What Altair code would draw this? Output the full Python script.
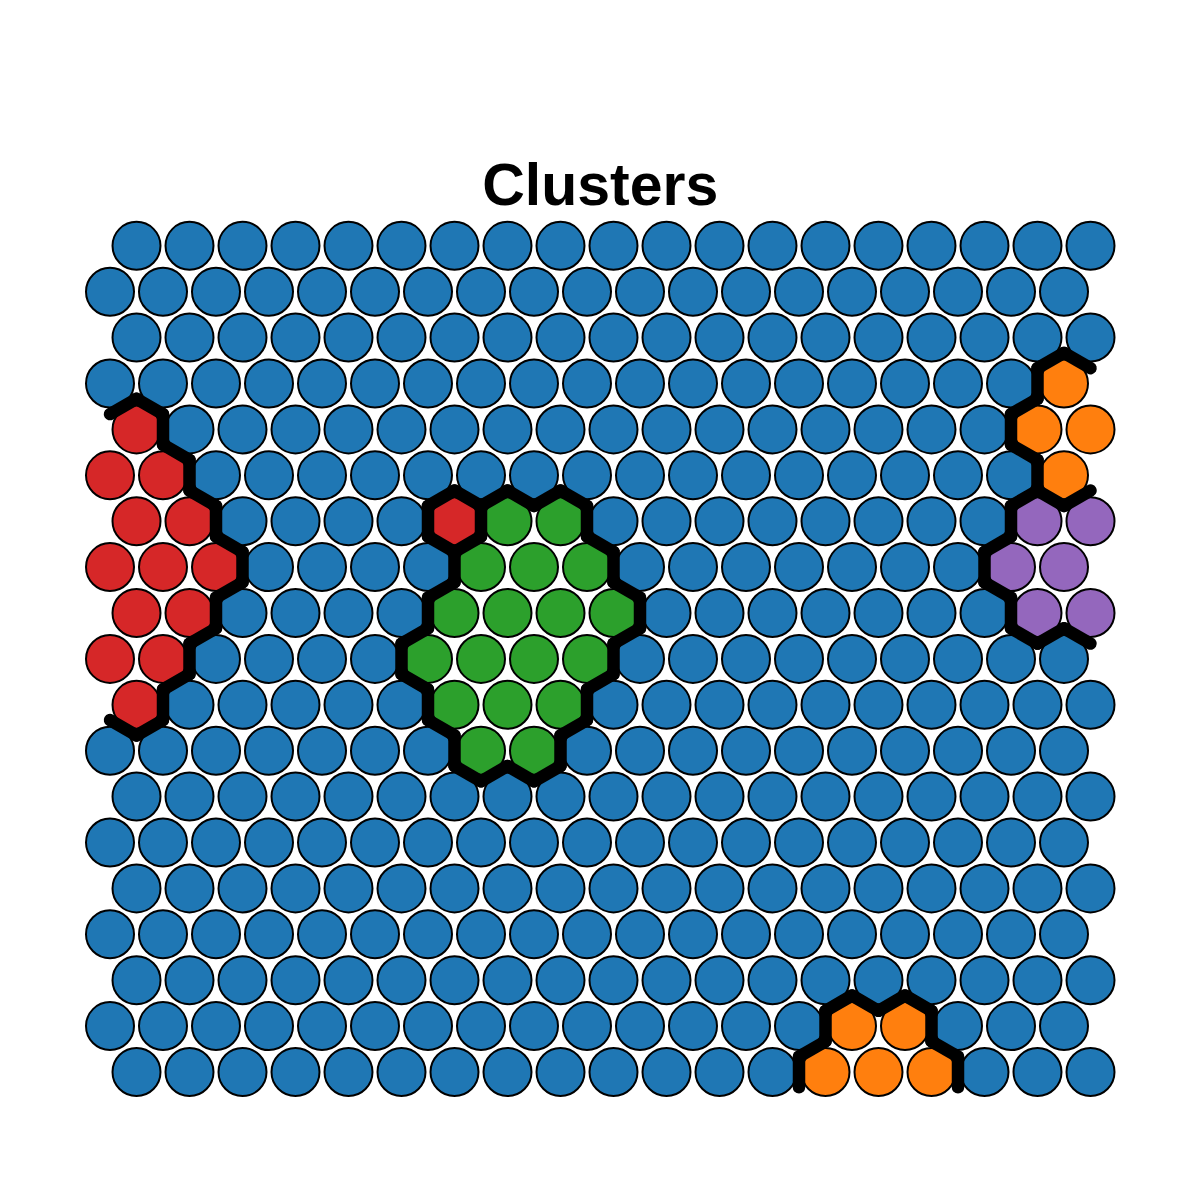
import altair as alt
import pandas as pd
import numpy as np

# ---------------------------------------------------------
# DATA: cluster of each SOM node, top row first (19 x 19 hex grid)
# B = blue, R = red, G = green, O = orange, P = purple
# ---------------------------------------------------------
cluster_rows = [
    "BBBBBBBBBBBBBBBBBBB",
    "BBBBBBBBBBBBBBBBBBB",
    "BBBBBBBBBBBBBBBBBBB",
    "BBBBBBBBBBBBBBBBBBO",
    "RBBBBBBBBBBBBBBBBOO",
    "RRBBBBBBBBBBBBBBBBO",
    "RRBBBBRGGBBBBBBBBPP",
    "RRRBBBBGGGBBBBBBBPP",
    "RRBBBBGGGGBBBBBBBPP",
    "RRBBBBGGGGBBBBBBBBB",
    "RBBBBBGGGBBBBBBBBBB",
    "BBBBBBBGGBBBBBBBBBB",
    "BBBBBBBBBBBBBBBBBBB",
    "BBBBBBBBBBBBBBBBBBB",
    "BBBBBBBBBBBBBBBBBBB",
    "BBBBBBBBBBBBBBBBBBB",
    "BBBBBBBBBBBBBBBBBBB",
    "BBBBBBBBBBBBBBOOBBB",
    "BBBBBBBBBBBBBOOOBBB",
]
cluster_codes = ["B", "R", "G", "O", "P"]
cluster_colors = ["#1f77b4", "#d62728", "#2ca02c", "#ff7f0e", "#9467bd"]

# ---------------------------------------------------------
# NODE POSITIONS (hex grid: every other row shifted by half a node)
# ---------------------------------------------------------
n_rows = len(cluster_rows)
H = np.sqrt(3) / 2
nodes = []
for r, row in enumerate(cluster_rows):
    for c, code in enumerate(row):
        nodes.append({
            "x": c + (0.5 if r % 2 == 0 else 0.0),
            "y": (n_rows - 1 - r) * H,
            "cluster": code,
        })
nodes_df = pd.DataFrame(nodes)

# ---------------------------------------------------------
# CLUSTER BOUNDARIES: shared hex edge between neighbours of different cluster
# ---------------------------------------------------------
half_edge = 1 / (2 * np.sqrt(3))
segs = []
pts = nodes_df[["x", "y"]].to_numpy()
cl = nodes_df["cluster"].to_numpy()
for i in range(len(pts)):
    for j in range(i + 1, len(pts)):
        d = pts[j] - pts[i]
        if abs(np.hypot(*d) - 1) < 1e-6 and cl[i] != cl[j]:
            m = (pts[i] + pts[j]) / 2
            n = np.array([-d[1], d[0]])
            a, b = m + n * half_edge, m - n * half_edge
            segs.append({"x": a[0], "y": a[1], "x2": b[0], "y2": b[1]})
segs_df = pd.DataFrame(segs)

x_scale = alt.Scale(domain=[-0.5, 19.0], nice=False, zero=False)
y_scale = alt.Scale(domain=[-0.5, 16.1], nice=False, zero=False)

circles = (
    alt.Chart(nodes_df)
    .mark_point(shape="circle", filled=True, size=2304, stroke="black",
                strokeWidth=2, opacity=1)
    .encode(
        x=alt.X("x:Q", scale=x_scale, axis=None),
        y=alt.Y("y:Q", scale=y_scale, axis=None),
        fill=alt.Color("cluster:N",
                       scale=alt.Scale(domain=cluster_codes, range=cluster_colors),
                       legend=None),
    )
)

borders = (
    alt.Chart(segs_df)
    .mark_rule(color="black", strokeWidth=12.5, strokeCap="round")
    .encode(
        x=alt.X("x:Q", scale=x_scale, axis=None),
        y=alt.Y("y:Q", scale=y_scale, axis=None),
        x2="x2:Q",
        y2="y2:Q",
    )
)

chart = (
    alt.layer(circles, borders)
    .properties(
        width=1033.5,
        height=879.8,
        autosize=alt.AutoSizeParams(type="none"),
        padding={"left": 75.5, "top": 210.7, "right": 0, "bottom": 0},
        title=alt.TitleParams("Clusters", font="Liberation Sans", fontSize=59,
                              fontWeight="bold", anchor="middle",
                              baseline="alphabetic", offset=13, dy=59,
                              color="black"),
    )
    .configure_view(stroke=None)
)

chart.save("out.html", embed_options={"renderer": "svg", "actions": False})
